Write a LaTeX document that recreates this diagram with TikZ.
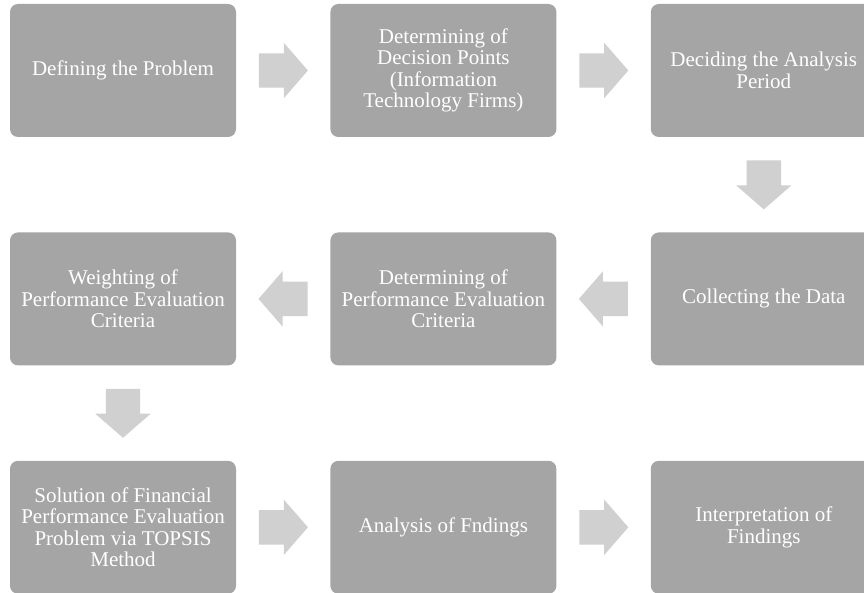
\documentclass[tikz,border=0pt]{standalone}
\usepackage{fontspec}
\setmainfont{Liberation Serif}
\usetikzlibrary{positioning,shapes.arrows,calc}
\definecolor{boxgray}{RGB}{165,165,165}
\definecolor{arrowgray}{RGB}{208,208,208}
\begin{document}
\begin{tikzpicture}[x=1pt,y=1pt,node distance=95pt and 94pt]

\tikzstyle{stepbox}=[rectangle, rounded corners=8pt, fill=boxgray, text=white, minimum width=226pt, minimum height=133pt, align=center, font=\fontsize{21}{21.5}\selectfont]
\tikzstyle{blockarrow}=[single arrow, fill=arrowgray, inner sep=0pt, text height=34pt, text depth=0pt, minimum height=49pt, single arrow head extend=10.5pt, single arrow tip angle=98, anchor=tail]

\useasboundingbox (0,0) rectangle (864,-593);
\clip (0,0) rectangle (864,-593);

\node[stepbox] (problem) at (123,-70.5) {Defining the Problem};
\node[stepbox, right=of problem] (points) {Determining of\\Decision Points\\(Information\\Technology Firms)};
\node[stepbox, right=of points] (period) {Deciding the Analysis\\Period};
\node[stepbox, below=of period] (data) {Collecting the Data};
\node[stepbox, left=of data] (criteria) {Determining of\\Performance Evaluation\\Criteria};
\node[stepbox, left=of criteria] (weights) {Weighting of\\Performance Evaluation\\Criteria};
\node[stepbox, below=of weights] (topsis) {Solution of Financial\\Performance Evaluation\\Problem via TOPSIS\\Method};
\node[stepbox, right=of topsis] (analysis) {Analysis of Fndings};
\node[stepbox, right=of analysis] (findings) {Interpretation of\\Findings};

\foreach \a/\b/\r in {problem/points/0, points/period/0, period/data/-90, data/criteria/180, criteria/weights/180, weights/topsis/-90, topsis/analysis/0, analysis/findings/0}
  \node[blockarrow, rotate=\r] at ($(\a)!0.5!(\b)!24.5pt!(\a)$) {};
\end{tikzpicture}
\end{document}
